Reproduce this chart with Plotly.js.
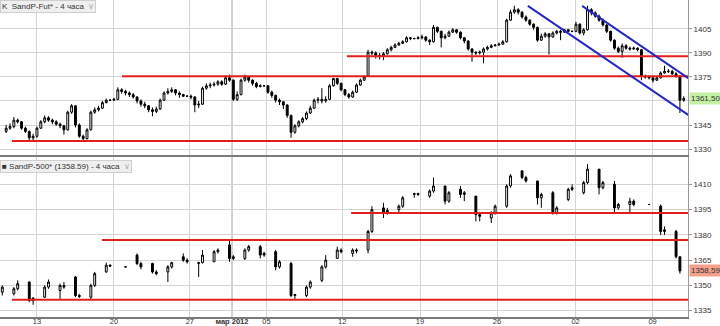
<!DOCTYPE html>
<html><head><meta charset="utf-8">
<script src="https://cdn.plot.ly/plotly-3.0.1.min.js"></script>
<style>html,body{margin:0;padding:0;background:#fff}#chart{width:720px;height:326px}</style>
</head><body><div id="chart"></div>
<script>
// ---- SandP-Fut, 4h bars (bar index = 4h step, 4 per trading day) ----
const futOpen = [1341,1343,1344,1348,1347,1343,1341,1337,1338,1343,
1347,1349.5,1348,1347,1345.5,1344.5,1342,1353,1357,1345,
1338,1336.5,1342,1353,1354.5,1355.5,1359,1360.5,1360.5,1361,
1367,1366,1365,1364,1362.5,1360,1358,1357,1354.5,1353.5,
1355,1360.5,1365,1366,1367,1365,1364,1363,1363,1362.5,
1357.5,1358,1368,1369.5,1370,1370.5,1372,1370.5,1374.5,1373,
1361,1364,1373,1375,1373,1371,1369,1369.5,1369.5,1365.5,
1363.5,1360.5,1359.5,1357.5,1351,1340.5,1344.5,1347,1349,1352.5,
1355.5,1360.5,1361,1360,1361,1369.5,1374,1371,1367,1364,
1362.5,1365.5,1370,1373,1376,1390.5,1390,1388.5,1388,1389.5,
1392,1393.5,1395,1396,1397,1399.5,1399,1399,1399.5,1400,
1398,1397,1406,1403.5,1399.5,1400.5,1403,1404.5,1403,1399.5,
1397.5,1392.5,1390.5,1390,1390.5,1392.5,1393.5,1394.5,1395,1395.5,
1397,1410.5,1415.5,1417,1415.5,1412.5,1410.5,1408,1406,1398,
1400.5,1402,1400,1402.5,1403.5,1403,1404.5,1403.5,1403.5,1408,
1402.5,1404.5,1417,1415,1413,1410.5,1407.5,1403.5,1398,1393,
1391,1394.5,1393,1392.5,1393,1392,1375.5,1375,1374.5,1373,
1374.5,1377.5,1378.5,1378.5,1377,1375.5,1360.5];
const futHigh = [1345,1346,1350,1349,1347.5,1344,1341.5,1339.5,1344,1348,
1351,1350.5,1349,1348,1346.5,1345,1354,1358,1357.5,1346,
1339,1343,1354,1356,1357,1360,1361.5,1361,1362,1368.5,
1368,1367,1366,1365,1363,1361,1359.5,1357.5,1356,1356.5,
1361.5,1366,1368,1368.5,1367.5,1366,1364.5,1363.5,1364,1363,
1360,1369,1371,1371.5,1372,1373,1373,1376,1376.5,1373.5,
1366,1374,1376.5,1375.5,1373.5,1372,1370.5,1370,1370,1366.5,
1364,1361.5,1360,1358,1351.5,1345.5,1348,1350,1353.5,1357,
1361.5,1362.5,1368,1363,1370.5,1374.5,1374.5,1371.5,1367.5,1365,
1366.5,1371,1374,1376,1392,1391.5,1391,1390,1390.5,1393,
1394.5,1396,1397,1398,1400.5,1400,1399.5,1400.5,1401.5,1400.5,
1398.5,1407.5,1406.5,1404,1402,1404,1405.5,1405,1403.5,1400,
1398,1393,1391,1391.5,1393.5,1394.5,1395.5,1395.5,1396.5,1398,
1411.5,1417,1419.5,1418,1416,1413.5,1411,1408.5,1406.5,1402,
1403,1402.5,1403.5,1404.5,1404.5,1405,1405,1404,1409.5,1408.5,
1405.5,1419.5,1418,1416,1414,1411.5,1408,1404,1398.5,1394,
1396,1395.5,1394,1394,1393.5,1392.5,1376.5,1376,1375,1375.5,
1378.5,1382,1380,1379.5,1378,1376,1363];
const futLow = [1340,1342,1343,1346,1342,1340,1334.5,1334.5,1337,1342.5,
1346,1347,1345.5,1344.5,1343,1339,1341.5,1352,1343.5,1337,
1334.5,1336,1341.5,1352,1353.5,1355,1358.5,1360,1360,1360.5,
1364.5,1363.5,1362.5,1361.5,1358.5,1356.5,1355.5,1353,1350.5,1352.5,
1354.5,1360,1364,1365,1363.5,1362,1362.5,1362.5,1361,1353,
1355.5,1357.5,1367,1368,1369,1369.5,1369.5,1370,1372,1360,
1360,1363.5,1372,1371.5,1369.5,1368,1368.5,1369,1364.5,1362,
1359,1357.5,1355,1349.5,1337,1339.5,1343.5,1346,1348,1352,
1355,1358.5,1358.5,1359,1360.5,1369,1370,1366,1363,1361.5,
1362,1365,1369.5,1372.5,1375.5,1388.5,1386.5,1386,1385.5,1389,
1391,1393,1394.5,1395.5,1396.5,1398,1398.5,1398.5,1398.5,1397,
1395,1396.5,1402.5,1393.5,1398.5,1400,1402.5,1402,1398.5,1396,
1391.5,1384.5,1388.5,1389,1383.5,1391.5,1393,1394,1394.5,1395,
1396.5,1410,1414.5,1414,1411.5,1409.5,1407,1404.5,1397,1397.5,
1399.5,1389,1399.5,1401.5,1398,1402.5,1403,1403,1403,1401.5,
1401,1404,1413.5,1412,1409.5,1406.5,1402.5,1397,1392,1390,
1387,1392,1391.5,1392,1391,1373,1374,1373.5,1371.5,1372.5,
1374,1377,1377.5,1376,1374.5,1352.5,1359.5];
const futClose = [1343,1344,1348,1347,1343,1341,1337,1338,1343,1347,
1349.5,1348,1347,1345.5,1344.5,1342,1353,1357,1345,1338,
1336.5,1342,1353,1354.5,1355.5,1359,1360.5,1360.5,1361,1367,
1366,1365,1364,1362.5,1360,1358,1357,1354.5,1353.5,1355,
1360.5,1365,1366,1367,1365,1364,1363,1363,1362.5,1357.5,
1358,1368,1369.5,1370,1370.5,1372,1370.5,1374.5,1373,1361,
1364,1373,1375,1373,1371,1369,1369.5,1369.5,1365.5,1363.5,
1360.5,1359.5,1357.5,1351,1340.5,1344.5,1347,1349,1352.5,1355.5,
1360.5,1361,1360,1361,1369.5,1374,1371,1367,1364,1362.5,
1365.5,1370,1373,1375,1390.5,1390,1388.5,1388,1389.5,1392,
1393.5,1395,1396,1397,1399.5,1399,1399,1399.5,1400,1398,
1397,1406,1403.5,1399.5,1400.5,1403,1404.5,1403,1399.5,1397.5,
1392.5,1390.5,1390,1390.5,1392.5,1393.5,1394.5,1395,1395.5,1397,
1410.5,1415.5,1417,1415.5,1412.5,1410.5,1408,1406,1398,1400.5,
1402,1400,1402.5,1403.5,1403,1404.5,1403.5,1403.5,1408,1402.5,
1404.5,1417,1415,1413,1410.5,1407.5,1403.5,1398,1393,1391,
1394.5,1393,1392.5,1393,1392,1375.5,1375,1374.5,1373,1374.5,
1377.5,1378.5,1378.5,1377,1375.5,1360.5,1361.5];

// ---- SandP-500 cash index, 4h bars (same bar index) ----
const spxBar = [-1,2,3,6,7,10,11,14,15,18,19,22,23,26,27,31,34,35,38,39,42,43,46,47,50,51,54,55,58,59,
62,63,66,67,70,71,74,75,78,79,82,83,86,87,90,91,94,95,98,99,102,103,106,107,110,111,114,115,118,119,
122,123,126,127,130,131,134,135,138,139,142,143,146,147,150,151,154,155,158,159,162,163,167,170,171,174,175];
const spxOpen = [1346,1345,1348,1352,1341,1343,1349,1347,1350,1355,1344,1343,1350,1358,1362,1361,1368,1363,1363,1358,1358,1361,1367,1365,1363,1363.5,1364,1370,1374,1366,
1366,1371,1373,1368,1370,1361,1363,1344,1344,1349,1353,1361,1366,1371,1369,1371,1371,1382,1396,1393,1395,1397,1404,1404.5,1403,1406,1409,1400,1407,1404,
1403,1392,1390,1393,1397,1409,1418,1414,1412,1402,1405,1393,1401,1407,1405,1411,1419,1408,1410,1396,1398,1400,1398,1397,1382,1382,1367];
const spxHigh = [1350,1349,1353,1352.5,1343,1350,1353.5,1351,1352,1355.5,1345,1351,1358,1363.5,1362.5,1361,1369,1364,1363.5,1359,1362,1364,1369,1366,1364,1371,1371,1372,1377,1368,
1372,1374,1374,1370,1371,1365,1364,1345,1350,1353,1362,1368,1373,1372,1372,1372,1383,1397,1399,1396,1398,1403,1405,1405,1407,1414,1409,1406,1409,1406,
1403,1393,1394,1398,1410,1416,1418,1415,1412,1405,1406,1397,1408,1410,1412,1422,1419,1412,1412,1399,1402,1401,1398,1398,1385,1383,1367];
const spxLow = [1344,1344,1347,1340,1338.5,1342.5,1348,1342,1348,1343,1342.5,1342,1349,1357.5,1361,1361,1362,1359.5,1357,1356,1352,1360,1364,1363,1355,1363,1364,1369,1364,1365,
1365,1370,1366,1367,1359,1360,1343,1342,1343,1348,1352,1360,1366,1369,1367,1369,1369,1381,1390,1392,1393,1396,1402,1403,1402,1405,1398,1399,1402,1400,
1388,1388,1387,1392,1396,1408,1413,1411,1398,1396,1392,1392,1400,1406,1404,1410,1404,1407,1393,1395,1393.5,1397,1398,1380,1380,1366,1357];
const spxClose = [1349,1348,1351,1341,1342.5,1349,1352,1350,1349,1344,1343.5,1350,1357,1362,1361.5,1361,1363,1361,1358,1357,1361,1363.5,1365,1364,1363.5,1368,1370,1371,1366,1367,
1371,1373,1368,1369,1361,1364,1344,1344.5,1349,1352,1361,1365,1371,1370,1371,1370.5,1382,1395,1393,1394.5,1397,1402,1404.5,1404,1406,1409,1400,1405,1404,1405,
1392,1391,1393,1397,1409,1415,1414,1412,1402,1404,1393,1396,1407,1408,1411,1419,1408,1411,1396,1398,1400,1398,1398,1382,1383,1367,1358.59];

// ---- drawn levels and channel ----
const futLevels = [1335, 1375.5, 1388];
const futLevelFrom = [1.5, 30.1, 88.5];
const spxLevels = [1341.5, 1377, 1393];
const spxLevelFrom = [1.5, 24.9, 89.6];
const channelLines = [[135.5, 1419.4, 177.6, 1350.6], [149.6, 1419.4, 179.4, 1370.6]];

// ---- axes text ----
const futTicks = [1330, 1345, 1360, 1375, 1390, 1405];
const futTickText = ['1330', '1345', '', '1375', '1390', '1405'];
const spxTicks = [1335, 1350, 1365, 1380, 1395, 1410];
const timeTickPos = [8, 28, 47.7, 58.65, 67.6, 87.3, 107.5, 127.5, 147.9, 167.9];
const timeTickText = ['13', '20', '27', 'мар 2012', '05', '12', '19', '26', '02', '09'];
const monthTick = 'мар 2012';
const futLast = 1361.50, spxLast = 1358.59;

const futX = futClose.map((_, i) => i);
const FONT = 'Liberation Sans, Arial, sans-serif';
const GRID = '#d4d4d4';
const xRange = [-1.6, 177.1];
const RED = '#e41e1e', BLUE = '#2828c0';

function candle(x, o, h, l, c, xa, ya) {
  return {type: 'candlestick', x: x, open: o, high: h, low: l, close: c, xaxis: xa, yaxis: ya,
    increasing: {line: {color: '#000', width: 1}, fillcolor: '#ffffff'},
    decreasing: {line: {color: '#000', width: 1}, fillcolor: '#000000'},
    whiskerwidth: 0, hoverinfo: 'skip'};
}
const data = [
  candle(futX, futOpen, futHigh, futLow, futClose, 'x', 'y'),
  candle(spxBar, spxOpen, spxHigh, spxLow, spxClose, 'x2', 'y2')
];

const shapes = [];
['y domain', 'y2 domain'].forEach(function (yr, k) {
  shapes.push({type: 'line', xref: k ? 'x2' : 'x', yref: yr, x0: timeTickPos[3], x1: timeTickPos[3], y0: 0, y1: 1,
    line: {color: '#9a9a9a', width: 1}, layer: 'below'});
});
futLevels.forEach(function (v, i) {
  shapes.push({type: 'line', xref: 'x', yref: 'y', x0: futLevelFrom[i], x1: xRange[1], y0: v, y1: v, line: {color: RED, width: 2}});
});
spxLevels.forEach(function (v, i) {
  shapes.push({type: 'line', xref: 'x2', yref: 'y2', x0: spxLevelFrom[i], x1: xRange[1], y0: v, y1: v, line: {color: RED, width: 2}});
});
channelLines.forEach(function (s) {
  shapes.push({type: 'line', xref: 'x', yref: 'y', x0: s[0], y0: s[1], x1: s[2], y1: s[3], line: {color: BLUE, width: 2}});
});

const axisX = {range: xRange, tickvals: timeTickPos, showgrid: true, gridcolor: GRID, gridwidth: 1, zeroline: false,
  showline: true, linecolor: '#7a7a7a', linewidth: 2, ticks: '', ticklen: 0, rangeslider: {visible: false}, fixedrange: true};
const axisY = {side: 'right', showgrid: true, gridcolor: GRID, zeroline: false, showline: true, linecolor: '#9a9a9a', linewidth: 1,
  ticks: 'outside', ticklen: 3, tickcolor: '#9a9a9a', tickfont: {size: 8, color: '#333'}, fixedrange: true};

const layout = {
  width: 720, height: 326, margin: {l: 0, r: 32, t: 0, b: 9},
  paper_bgcolor: '#fff', plot_bgcolor: '#fff', showlegend: false,
  font: {family: FONT, size: 8, color: '#333'},
  xaxis: Object.assign({}, axisX, {anchor: 'y', showticklabels: false}),
  xaxis2: Object.assign({}, axisX, {anchor: 'y2', matches: 'x', mirror: true, ticklabelstandoff: -4,
    ticktext: timeTickText.map(t => t === monthTick ? '<b>' + t + '</b>' : t), tickfont: {size: 7.5, color: '#333'}}),
  yaxis: Object.assign({}, axisY, {domain: [0.511, 1], anchor: 'x', range: [1326.25, 1423.1], tickvals: futTicks, ticktext: futTickText}),
  yaxis2: Object.assign({}, axisY, {domain: [0, 0.5047], anchor: 'x2', range: [1331.25, 1426.2], tickvals: spxTicks, ticktext: spxTicks.map(String)}),
  shapes: shapes,
  annotations: [
    {xref: 'paper', yref: 'paper', x: 0, y: 1, xanchor: 'left', yanchor: 'top', showarrow: false,
      text: 'K  SandP-Fut* - 4 часа  <span style="color:#aaa">∨</span>', bgcolor: '#efefef', bordercolor: '#cfcfcf', borderwidth: 1, borderpad: 1,
      font: {size: 8, color: '#333'}},
    {xref: 'paper', yref: 'paper', x: 0, y: 0.5047, yshift: -3, xanchor: 'left', yanchor: 'top', showarrow: false,
      text: '■ SandP-500* (' + spxLast.toFixed(2) + ') - 4 часа  <span style="color:#aaa">∨</span>', bgcolor: '#efefef', bordercolor: '#cfcfcf', borderwidth: 1, borderpad: 1,
      font: {size: 8, color: '#333'}},
    {xref: 'paper', yref: 'y', x: 1, y: futLast, xanchor: 'left', xshift: 1, showarrow: false,
      text: futLast.toFixed(2).replace('.', ','), bgcolor: '#c4f0a4', borderpad: 1, font: {size: 8, color: '#333'}},
    {xref: 'paper', yref: 'y2', x: 1, y: spxLast, xanchor: 'left', xshift: 1, showarrow: false,
      text: spxLast.toFixed(2).replace('.', ','), bgcolor: '#f4a08a', borderpad: 1, font: {size: 8, color: '#333'}}
  ]
};
Plotly.newPlot('chart', data, layout, {displayModeBar: false, staticPlot: true});
</script>
</body></html>
